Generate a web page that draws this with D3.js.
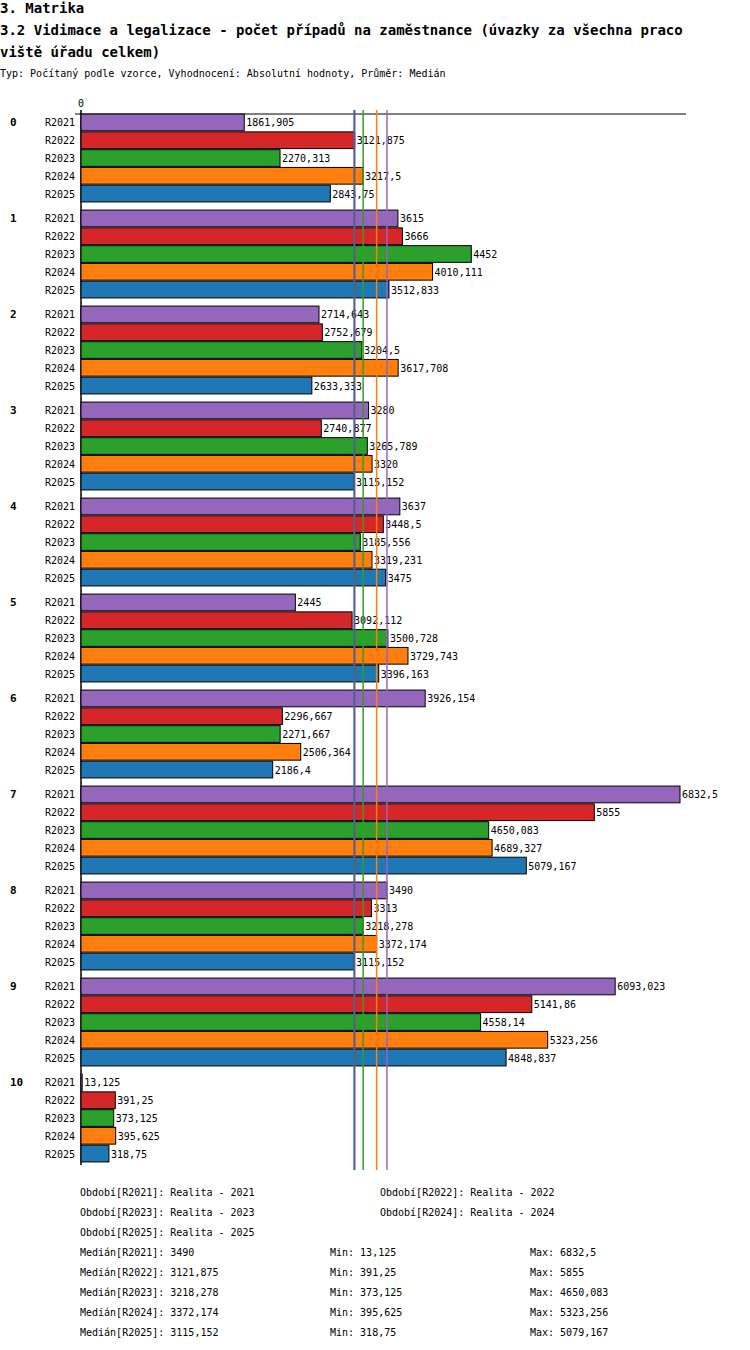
<!DOCTYPE html>
<html><head><meta charset="utf-8">
<script src="https://cdn.jsdelivr.net/npm/d3@7"></script>
<style>body{margin:0;background:#fff}text{font-family:"DejaVu Sans Mono",monospace}</style>
</head><body><div id="chart"></div>
<script>
const groups = ["0","1","2","3","4","5","6","7","8","9","10"];
const series = ["R2021","R2022","R2023","R2024","R2025"];
const colors = ["#9467bd","#d62728","#2ca02c","#ff7f0e","#1f77b4"];
const labels = ["Realita - 2021","Realita - 2022","Realita - 2023","Realita - 2024","Realita - 2025"];
const values = [
  [1861.905,3121.875,2270.313,3217.5,2843.75],
  [3615,3666,4452,4010.111,3512.833],
  [2714.643,2752.679,3204.5,3617.708,2633.333],
  [3280,2740.877,3265.789,3320,3115.152],
  [3637,3448.5,3185.556,3319.231,3475],
  [2445,3092.112,3500.728,3729.743,3396.163],
  [3926.154,2296.667,2271.667,2506.364,2186.4],
  [6832.5,5855,4650.083,4689.327,5079.167],
  [3490,3313,3218.278,3372.174,3115.152],
  [6093.023,5141.86,4558.14,5323.256,4848.837],
  [13.125,391.25,373.125,395.625,318.75]
];
const medians = [3490,3121.875,3218.278,3372.174,3115.152];
const mins = [13.125,391.25,373.125,395.625,318.75];
const maxs = [6832.5,5855,4650.083,4689.327,5079.167].map((d,i)=>i==3?5323.256:d);

const fmt = v => String(v).replace(".", ",");
const svg = d3.select("#chart").append("svg").attr("width",750).attr("height",1350);

svg.append("text").attr("x",0).attr("y",13).attr("font-size",14).attr("font-weight","bold").text("3. Matrika");
svg.append("text").attr("x",0).attr("y",35).attr("font-size",14).attr("font-weight","bold").text("3.2 Vidimace a legalizace - počet případů na zaměstnance (úvazky za všechna praco");
svg.append("text").attr("x",0).attr("y",57).attr("font-size",14).attr("font-weight","bold").text("viště úřadu celkem)");
svg.append("text").attr("x",0).attr("y",77).attr("font-size",10).text("Typ: Počítaný podle vzorce, Vyhodnocení: Absolutní hodnoty, Průměr: Medián");

const x = d3.scaleLinear().domain([0,6832.5]).range([81,680]);
const gY = d3.scaleBand().domain(groups).range([113,1169]).paddingInner(0).paddingOuter(0);
const sY = d3.scaleBand().domain(series).range([0,90]).padding(0.06);

svg.append("line").attr("x1",75).attr("x2",686).attr("y1",114).attr("y2",114).attr("stroke","#000");
svg.append("line").attr("x1",81).attr("x2",81).attr("y1",110).attr("y2",1165).attr("stroke","#000").attr("stroke-width",1.5);
svg.append("text").attr("x",81).attr("y",107).attr("font-size",10).attr("text-anchor","middle").text("0");

const g = svg.selectAll("g.grp").data(groups).join("g").attr("transform",d=>`translate(0,${gY(d)})`);
g.append("text").attr("x",10).attr("y",sY("R2021")+sY.bandwidth()/2+4).attr("font-size",11).attr("font-weight","bold").text(d=>d);
g.each(function(gr,gi){
  const sel = d3.select(this);
  series.forEach((s,si)=>{
    const v = values[gi][si], yy = sY(s);
    sel.append("text").attr("x",75).attr("y",yy+sY.bandwidth()/2+4).attr("font-size",10).attr("text-anchor","end").text(s);
    sel.append("rect").attr("x",x(0)).attr("y",yy).attr("width",x(v)-x(0)).attr("height",sY.bandwidth())
      .attr("fill",colors[si]).attr("stroke","#000").attr("stroke-width",1);
    sel.append("text").attr("x",x(v)+2).attr("y",yy+sY.bandwidth()/2+4).attr("font-size",10).text(fmt(v));
  });
});

medians.forEach((m,i)=>{
  svg.append("line").attr("x1",x(m)).attr("x2",x(m)).attr("y1",110).attr("y2",1170)
    .attr("stroke",colors[i]).attr("stroke-width",1.5);
});

series.forEach((s,i)=>{
  svg.append("text").attr("x",i%2?380:80).attr("y",1196+Math.floor(i/2)*20).attr("font-size",10)
    .text(`Období[${s}]: ${labels[i]}`);
});
series.forEach((s,i)=>{
  const yy = 1256+i*20;
  svg.append("text").attr("x",80).attr("y",yy).attr("font-size",10).text(`Medián[${s}]: ${fmt(medians[i])}`);
  svg.append("text").attr("x",330).attr("y",yy).attr("font-size",10).text(`Min: ${fmt(mins[i])}`);
  svg.append("text").attr("x",530).attr("y",yy).attr("font-size",10).text(`Max: ${fmt(maxs[i])}`);
});
</script></body></html>
